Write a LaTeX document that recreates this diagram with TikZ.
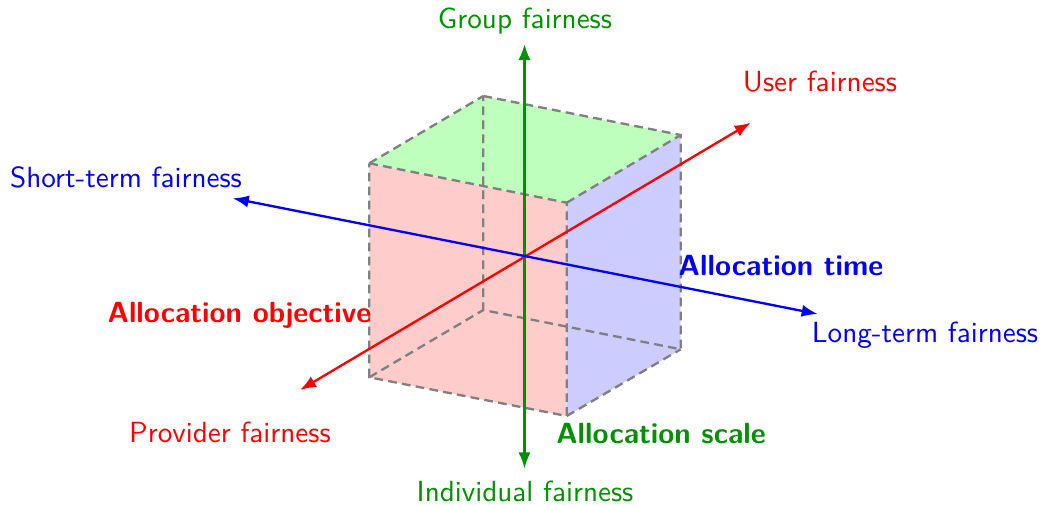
\documentclass[tikz,border=0pt]{standalone}
\usetikzlibrary{arrows.meta}
\definecolor{facered}{RGB}{255,204,204}
\definecolor{facegreen}{RGB}{190,255,190}
\definecolor{faceblue}{RGB}{204,204,255}
\definecolor{axgreen}{RGB}{0,145,0}
\tikzset{
  edge/.style={draw=gray, line width=0.8pt, dash pattern=on 3pt off 1.8pt},
  axis/.style={line width=0.8pt, {Latex[length=5.5pt,width=4.2pt]}-{Latex[length=5.5pt,width=4.2pt]}},
  lbl/.style={font=\sffamily, anchor=base, inner sep=0pt},
  blbl/.style={font=\sffamily\bfseries, anchor=base, inner sep=0pt},
}
\begin{document}
\begin{tikzpicture}[x=0.343pt,y=-0.343pt]
\useasboundingbox (0,0) rectangle (1042,505);
% cube vertices
\coordinate (A) at (369.3,163.3);
\coordinate (B) at (566.7,202.7);
\coordinate (C) at (566.7,416);
\coordinate (D) at (369.3,377.3);
\coordinate (E) at (483.3,96);
\coordinate (F) at (680.7,135);
\coordinate (G) at (680.7,349.3);
\coordinate (H) at (483.3,310);
% faces
\fill[facered] (A) -- (B) -- (C) -- (D) -- cycle;
\fill[facegreen] (A) -- (E) -- (F) -- (B) -- cycle;
\fill[faceblue] (B) -- (F) -- (G) -- (C) -- cycle;
% edges
\draw[edge] (A) -- (B) -- (C) -- (D) -- cycle;
\draw[edge] (E) -- (F) -- (G) -- (H) -- cycle;
\draw[edge] (A) -- (E);
\draw[edge] (B) -- (F);
\draw[edge] (C) -- (G);
\draw[edge] (D) -- (H);
% axis ends
\coordinate (gT) at (524.5,44);
\coordinate (gB) at (524.5,468.5);
\coordinate (rT) at (750.7,122.7);
\coordinate (rB) at (300,390);
\coordinate (bL) at (232.7,198.3);
\coordinate (bR) at (817.7,314);
\draw[axis, axgreen] (gB) -- (gT);
\draw[axis, red] (rB) -- (rT);
\draw[axis, blue] (bL) -- (bR);
% labels
\node[lbl, axgreen] (lgroup) at (525,28) {Group fairness};
\node[lbl, axgreen] (lind) at (525,501) {Individual fairness};
\node[lbl, red] (luser) at (820,91) {User fairness};
\node[lbl, red] (lprov) at (230,442) {Provider fairness};
\node[lbl, blue] (lshort) at (126,187) {Short-term fairness};
\node[lbl, blue] (llong) at (925,342) {Long-term fairness};
\node[blbl, blue] (ltime) at (781,275) {Allocation time};
\node[blbl, red] (lobj) at (239.5,322.3) {Allocation objective};
\node[blbl, axgreen] (lscale) at (661,443) {Allocation scale};
\end{tikzpicture}
\end{document}
